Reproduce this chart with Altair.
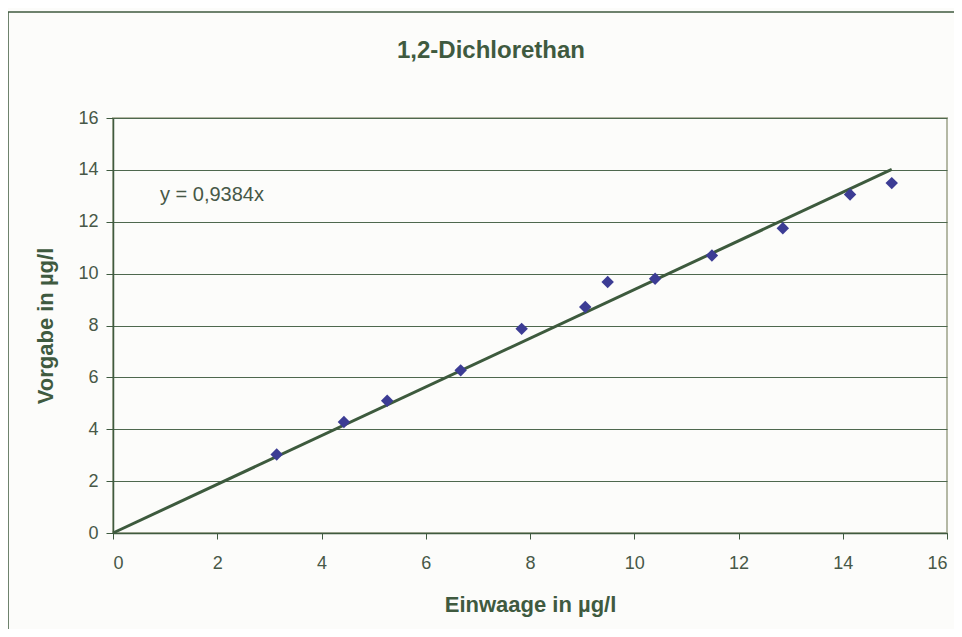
import altair as alt
import pandas as pd

# Data
einwaage = [3.14, 4.43, 5.26, 6.67, 7.84, 9.06, 9.49, 10.40, 11.49, 12.85, 14.14, 14.94]
vorgabe = [3.03, 4.28, 5.10, 6.27, 7.87, 8.71, 9.68, 9.80, 10.70, 11.75, 13.05, 13.49]
fit_x = [0.0, 14.94]
fit_y = [0.0, 14.02]
x_ticks = [0, 2, 4, 6, 8, 10, 12, 14, 16]
y_ticks = [0, 2, 4, 6, 8, 10, 12, 14, 16]
title_text = "1,2-Dichlorethan"
equation_text = "y = 0,9384x"

GREEN = "#3F5A3F"
LABEL = "#475847"
FONT = "Liberation Sans"

pts = pd.DataFrame({"x": einwaage, "y": vorgabe})
fit = pd.DataFrame({"x": fit_x, "y": fit_y})
one = pd.DataFrame({"a": [0]})

W, H = 834, 415

xs = alt.Scale(domain=[0, 16], nice=False)
ys = alt.Scale(domain=[0, 16], nice=False)

frame = alt.Chart(one).mark_rect(
    fill="transparent", stroke=GREEN, strokeWidth=1.5
).encode(
    x=alt.value(-105), x2=alt.value(W + 40),
    y=alt.value(-106), y2=alt.value(H + 140),
)

points = alt.Chart(pts).mark_point(
    shape="diamond", filled=True, color="#3C3C94", size=155, opacity=1
).encode(
    x=alt.X("x:Q", scale=xs,
            axis=alt.Axis(values=x_ticks, title="Einwaage in µg/l", grid=False,
                          tickSize=6, labelPadding=15, titlePadding=22)),
    y=alt.Y("y:Q", scale=ys,
            axis=alt.Axis(values=y_ticks, title="Vorgabe in µg/l", grid=True,
                          tickSize=7, labelPadding=8, titlePadding=20)),
)

line = alt.Chart(fit).mark_line(color="#3D5A3D", strokeWidth=3).encode(
    x=alt.X("x:Q", scale=xs), y=alt.Y("y:Q", scale=ys)
)

title = alt.Chart(one).mark_text(
    text=title_text, font=FONT, fontSize=24, fontWeight="bold", color=GREEN,
    align="center", baseline="middle"
).encode(x=alt.value(378), y=alt.value(-67))

eq = alt.Chart(one).mark_text(
    text=equation_text, font=FONT, fontSize=20, color=LABEL,
    align="left", baseline="middle"
).encode(x=alt.value(47), y=alt.value(77))

chart = alt.layer(frame, line, points, title, eq).properties(
    width=W, height=H,
    autosize=alt.AutoSizeParams(type="none"),
    padding={"left": 105, "top": 110, "right": 7, "bottom": 96},
    background="#FCFCFA",
).configure_view(
    stroke="#B4B8A4", strokeWidth=2
).configure_axis(
    domainColor=GREEN, domainWidth=1.5, tickColor=GREEN, tickWidth=1,
    gridColor="#4E684E", gridWidth=1, gridOpacity=1,
    labelFont=FONT, labelFontSize=18, labelColor=LABEL,
    titleFont=FONT, titleFontSize=22, titleFontWeight="bold", titleColor=GREEN,
)

chart.save("out.html", embed_options={"renderer": "svg", "actions": False})
